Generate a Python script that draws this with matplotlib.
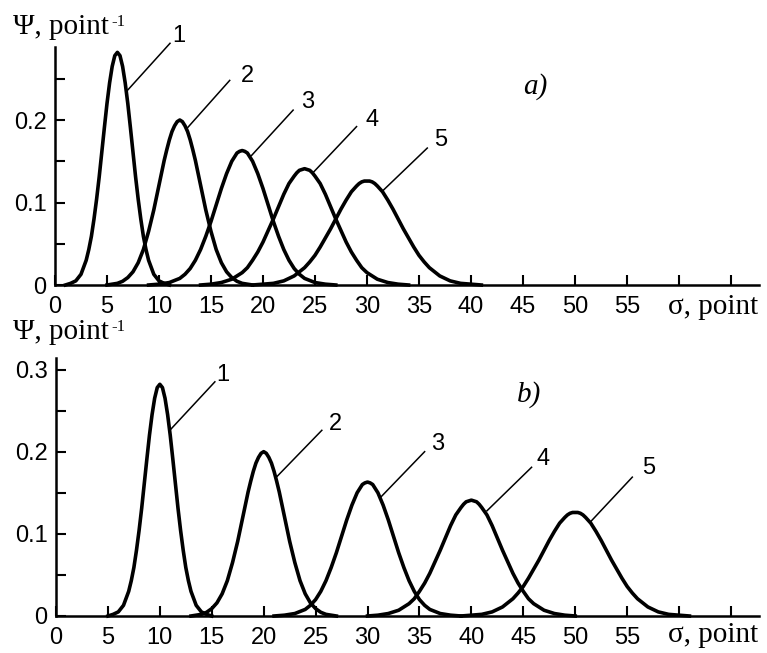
import numpy as np
import matplotlib.pyplot as plt

offsets = [
    [0, 0.25, 0.5, 0.75, 1, 1.25, 1.5, 1.75, 2, 2.25, 2.5, 2.75, 3, 3.5, 4, 4.5, 5],
    [0, 0.25, 0.5, 0.75, 1, 1.25, 1.5, 1.75, 2, 2.5, 3, 3.5, 4, 4.5, 5, 5.5, 6, 7],
    [0, 0.25, 0.5, 0.75, 1, 1.5, 2, 2.5, 3, 3.5, 4, 4.5, 5, 5.5, 6, 7, 8, 9],
    [0, 0.25, 0.5, 0.75, 1, 1.5, 2, 2.5, 3, 3.5, 4, 4.5, 5, 5.5, 6, 7, 8, 9, 10],
    [0, 0.25, 0.5, 0.75, 1, 1.5, 2, 2.5, 3, 3.5, 4, 4.5, 5, 5.5, 6, 7, 8, 9, 10, 11],
]
psi_half = [
    [0.282, 0.278, 0.265, 0.245, 0.220, 0.191, 0.161, 0.131, 0.104, 0.080, 0.059, 0.043,
     0.030, 0.013, 0.005, 0.002, 0.0],
    [0.200, 0.198, 0.193, 0.186, 0.176, 0.164, 0.151, 0.136, 0.121, 0.091, 0.065, 0.043,
     0.027, 0.016, 0.009, 0.0045, 0.002, 0.0],
    [0.163, 0.162, 0.160, 0.155, 0.150, 0.135, 0.117, 0.097, 0.077, 0.059, 0.043, 0.030,
     0.020, 0.013, 0.008, 0.003, 0.001, 0.0],
    [0.141, 0.140, 0.139, 0.136, 0.132, 0.123, 0.110, 0.095, 0.080, 0.066, 0.052, 0.040,
     0.030, 0.021, 0.015, 0.007, 0.003, 0.001, 0.0],
    [0.126, 0.126, 0.125, 0.123, 0.120, 0.113, 0.103, 0.092, 0.080, 0.068, 0.057, 0.046,
     0.036, 0.028, 0.021, 0.011, 0.005, 0.002, 0.001, 0.0],
]
peaks_a = [6, 12, 18, 24, 30]
peaks_b = [10, 20, 30, 40, 50]
curve_names = ['1', '2', '3', '4', '5']

x_ticks = [0, 5, 10, 15, 20, 25, 30, 35, 40, 45, 50, 55, 60, 65]
x_tick_labels = ['0', '5', '10', '15', '20', '25', '30', '35', '40', '45', '50', '55', '', '']
y_ticks_a = [0, 0.1, 0.2]
y_ticks_b = [0, 0.1, 0.2, 0.3]
y_minor = [0.05, 0.15, 0.25]

# leader lines (start on curve, end near number) and number positions
leaders_a = [((6.9, 0.235), (11.06, 0.293)), ((12.7, 0.190), (16.8, 0.248)),
             ((18.9, 0.157), (22.9, 0.212)), ((24.8, 0.136), (29.0, 0.192)),
             ((31.5, 0.114), (35.8, 0.166))]
names_a = [(11.9, 0.302), (18.5, 0.253), (24.3, 0.222), (30.5, 0.200), (37.1, 0.176)]
leaders_b = [((10.96, 0.226), (15.3, 0.285)), ((21.3, 0.170), (25.6, 0.226)),
             ((31.3, 0.145), (35.5, 0.200)), ((41.5, 0.128), (45.8, 0.181)),
             ((51.5, 0.115), (55.5, 0.169))]
names_b = [(16.1, 0.293), (26.9, 0.234), (36.8, 0.209), (46.9, 0.191), (57.1, 0.180)]

SANS = 'Liberation Sans'
SERIF = 'Liberation Serif'

W, H = 767, 653
fig = plt.figure(figsize=(W / 100, H / 100), dpi=100)


def draw_panel(ax, peaks, ymax, yticks, leaders, names, tag, tag_xy):
    for k in range(5):
        d = np.array(offsets[k])
        p = np.array(psi_half[k])
        x = np.concatenate([peaks[k] - d[::-1], peaks[k] + d[1:]])
        y = np.concatenate([p[::-1], p[1:]])
        ax.plot(x, y, color='black', lw=2.6, solid_joinstyle='round', clip_on=False, zorder=3)
        (x0, y0), (x1, y1) = leaders[k]
        ax.plot([x0, x1], [y0, y1], color='black', lw=1.1, clip_on=False)
        ax.text(names[k][0], names[k][1], curve_names[k], ha='center', va='center',
                fontsize=17, family=SANS)
    ax.text(tag_xy[0], tag_xy[1], tag, ha='center', va='center', fontsize=21,
            family=SERIF, style='italic')

    ax.set_xlim(0, 67.7)
    ax.set_ylim(0, ymax)
    for s in ['top', 'right']:
        ax.spines[s].set_visible(False)
    for s in ['left', 'bottom']:
        ax.spines[s].set_linewidth(1.8)
    ax.set_xticks(x_ticks)
    ax.set_xticklabels(x_tick_labels, family=SANS, fontsize=17)
    ax.set_yticks(yticks)
    ax.set_yticklabels(['0' if v == 0 else f'{v:.1f}' for v in yticks], family=SANS, fontsize=17)
    ax.set_yticks(y_minor, minor=True)
    ax.tick_params(axis='both', which='both', direction='in', length=7, width=1.5)
    ax.tick_params(axis='x', pad=8)
    ax.tick_params(axis='y', pad=6)


ax_a = fig.add_axes([55 / W, (H - 285) / H, 704 / W, 238 / H])
draw_panel(ax_a, peaks_a, 0.2885, y_ticks_a, leaders_a, names_a, 'a)', (46.2, 0.240))
ax_b = fig.add_axes([56 / W, (H - 616) / H, 703 / W, 258 / H])
draw_panel(ax_b, peaks_b, 0.314, y_ticks_b, leaders_b, names_b, 'b)', (45.6, 0.269))

# axis titles
renderer = fig.canvas.get_renderer()
for base in [34, 339]:
    t = fig.text(13 / W, (H - base) / H, 'Ψ, point', fontsize=21, family=SERIF, va='baseline')
    bb = t.get_window_extent(renderer)
    fig.text((bb.x1 + 3) / W, (H - base + 8) / H, '-1', fontsize=12, family=SERIF, va='baseline')
for base in [314, 642]:
    fig.text(668 / W, (H - base) / H, 'σ, point', fontsize=21, family=SERIF, va='baseline')

fig.savefig('out.png', dpi=100)
